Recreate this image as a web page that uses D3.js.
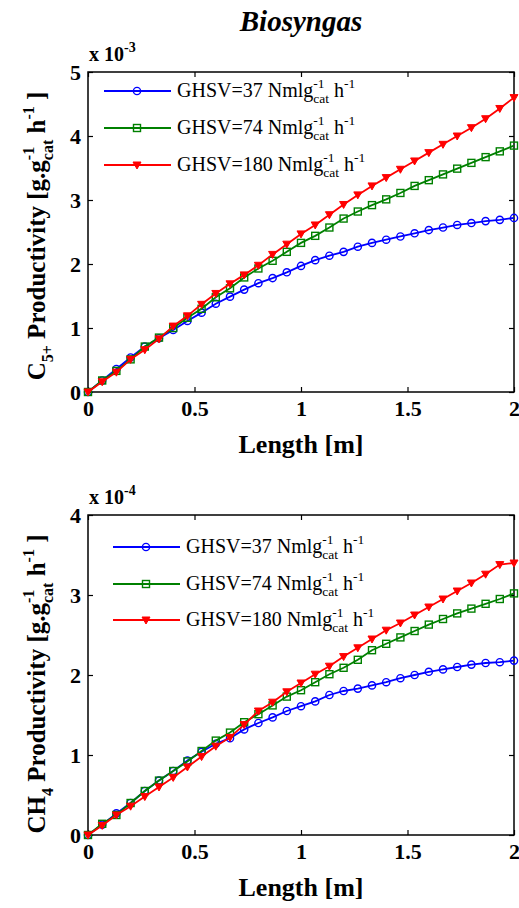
<!DOCTYPE html>
<html>
<head>
<meta charset="utf-8">
<script src="https://cdn.jsdelivr.net/npm/d3@7/dist/d3.min.js"></script>
<style>
  body { margin: 0; background: #fff; }
  text { font-family: "Liberation Serif", "Times New Roman", serif; }
</style>
</head>
<body>
<div id="graph"></div>
<script>
"use strict";

// reactor length [m]
const lengthM = [0, 0.0667, 0.1333, 0.2, 0.2667, 0.3333, 0.4, 0.4667, 0.5333, 0.6, 0.6667,
  0.7333, 0.8, 0.8667, 0.9333, 1, 1.0667, 1.1333, 1.2, 1.2667, 1.3333, 1.4, 1.4667,
  1.5333, 1.6, 1.6667, 1.7333, 1.8, 1.8667, 1.9333, 2];

// C5+ productivity (x 10^-3)
const c5Ghsv37 = [0, 0.18, 0.36, 0.54, 0.71, 0.84, 0.97, 1.11, 1.24, 1.38, 1.49, 1.60, 1.70, 1.78,
  1.87, 1.97, 2.06, 2.13, 2.19, 2.27, 2.33, 2.38, 2.43, 2.48, 2.53, 2.57, 2.61, 2.64, 2.67, 2.69, 2.72];
const c5Ghsv74 = [0, 0.18, 0.33, 0.51, 0.71, 0.85, 1.00, 1.16, 1.30, 1.48, 1.62, 1.79, 1.93, 2.05,
  2.19, 2.33, 2.44, 2.57, 2.71, 2.82, 2.92, 3.01, 3.11, 3.22, 3.31, 3.40, 3.49, 3.58, 3.67, 3.76, 3.85];
const c5Ghsv180 = [0, 0.16, 0.31, 0.51, 0.66, 0.83, 1.03, 1.19, 1.37, 1.54, 1.69, 1.83, 1.98, 2.15,
  2.31, 2.47, 2.61, 2.77, 2.93, 3.08, 3.22, 3.35, 3.48, 3.61, 3.74, 3.87, 4.00, 4.13, 4.27, 4.43, 4.60];

// CH4 productivity (x 10^-4)
const ch4Ghsv37 = [0, 0.13, 0.27, 0.40, 0.55, 0.68, 0.80, 0.93, 1.04, 1.14, 1.21, 1.32, 1.40, 1.47,
  1.55, 1.61, 1.67, 1.75, 1.80, 1.83, 1.87, 1.91, 1.96, 2.00, 2.04, 2.07, 2.10, 2.13, 2.15, 2.16, 2.18];
const ch4Ghsv74 = [0, 0.14, 0.25, 0.40, 0.55, 0.68, 0.80, 0.92, 1.05, 1.18, 1.28, 1.41, 1.51, 1.62,
  1.73, 1.81, 1.91, 2.01, 2.09, 2.19, 2.31, 2.39, 2.47, 2.55, 2.63, 2.70, 2.77, 2.83, 2.89, 2.95, 3.02];
const ch4Ghsv180 = [0, 0.12, 0.25, 0.36, 0.48, 0.60, 0.72, 0.85, 0.98, 1.11, 1.22, 1.38, 1.55, 1.66,
  1.79, 1.90, 2.01, 2.11, 2.23, 2.34, 2.45, 2.56, 2.65, 2.75, 2.85, 2.95, 3.05, 3.15, 3.26, 3.38, 3.40];

const xTicks = [0, 0.5, 1, 1.5, 2];
const c5Ticks = [0, 1, 2, 3, 4, 5];
const ch4Ticks = [0, 1, 2, 3, 4];
const ghsvValues = ["37", "74", "180"];
const seriesColors = ["#0000ff", "#008000", "#ff0000"];
const seriesMarkers = ["circle", "square", "triangle"];

const svg = d3.select("#graph").append("svg")
  .attr("width", 519).attr("height", 908);

// title
svg.append("text")
  .attr("x", 301).attr("y", 31)
  .attr("text-anchor", "middle")
  .style("font-size", "29px").style("font-weight", "bold").style("font-style", "italic")
  .text("Biosyngas");

// appends runs of [text, kind] into a text node; kind: "", "sup", "sub", "stack" (sub under previous sup)
function richText(textSel, parts, baseSize, smallSize) {
  let level = 0;
  let lastWidth = 0;
  parts.forEach(function (p) {
    const kind = p[1] || "";
    let target = 0;
    if (kind === "sup") target = -0.45 * baseSize;
    if (kind === "sub" || kind === "stack") target = 0.3 * baseSize;
    const t = textSel.append("tspan")
      .attr("dy", target - level)
      .style("font-size", (kind ? smallSize : baseSize) + "px")
      .text(p[0]);
    if (kind === "stack") t.attr("dx", -lastWidth);
    level = target;
    lastWidth = t.node().getComputedTextLength();
  });
}

function drawPanel(cfg) {
  const x = d3.scaleLinear().domain([0, 2]).range([88, 514]);
  const y = d3.scaleLinear().domain([0, cfg.yMax]).range([cfg.bottom, cfg.top]);
  const g = svg.append("g");

  const tickFont = function (sel) {
    sel.selectAll("text")
      .style("font-family", "'Liberation Serif', serif")
      .style("font-size", "22px").style("font-weight", "bold").attr("fill", "#000");
    sel.selectAll("line").attr("stroke", "#000").attr("stroke-width", 1.2);
    sel.select(".domain").remove();
  };

  g.append("g").attr("transform", "translate(0," + cfg.bottom + ")")
    .call(d3.axisBottom(x).tickValues(xTicks).tickFormat(d3.format("")).tickSize(-5).tickPadding(8))
    .call(tickFont);
  g.append("g").attr("transform", "translate(0," + cfg.top + ")")
    .call(d3.axisTop(x).tickValues(xTicks).tickFormat("").tickSize(-5))
    .call(tickFont);
  g.append("g").attr("transform", "translate(88,0)")
    .call(d3.axisLeft(y).tickValues(cfg.yTicks).tickFormat(d3.format("d")).tickSize(-5).tickPadding(7))
    .call(tickFont);
  g.append("g").attr("transform", "translate(514,0)")
    .call(d3.axisRight(y).tickValues(cfg.yTicks).tickFormat("").tickSize(-5))
    .call(tickFont);

  g.append("rect")
    .attr("x", 88).attr("y", cfg.top)
    .attr("width", 514 - 88).attr("height", cfg.bottom - cfg.top)
    .attr("fill", "none").attr("stroke", "#000").attr("stroke-width", 1.5);

  // exponent
  const ex = g.append("text").attr("x", 89).attr("y", cfg.top - 11)
    .style("font-weight", "bold");
  richText(ex, [["x 10", ""], [cfg.exponent, "sup"]], 20, 14);

  // x label
  g.append("text")
    .attr("x", 301).attr("y", cfg.bottom + 61)
    .attr("text-anchor", "middle")
    .style("font-size", "26px").style("font-weight", "bold")
    .text("Length [m]");

  // y label
  const yl = g.append("text")
    .attr("transform", "translate(45," + cfg.labelY + ") rotate(-90)")
    .attr("text-anchor", "middle")
    .style("font-weight", "bold");
  richText(yl, cfg.yLabel, 25, 16);

  const line = d3.line()
    .x(function (d, i) { return x(lengthM[i]); })
    .y(function (d) { return y(d); });

  function marker(sel, kind, color, cx, cy) {
    if (kind === "circle") {
      sel.append("circle").attr("cx", cx).attr("cy", cy).attr("r", 3.6)
        .attr("fill", "none").attr("stroke", color).attr("stroke-width", 1.4);
    } else if (kind === "square") {
      sel.append("rect").attr("x", cx - 3.5).attr("y", cy - 3.5).attr("width", 7).attr("height", 7)
        .attr("fill", "none").attr("stroke", color).attr("stroke-width", 1.4);
    } else {
      sel.append("path")
        .attr("d", "M" + (cx - 4) + "," + (cy - 3) + "L" + (cx + 4) + "," + (cy - 3) + "L" + cx + "," + (cy + 4) + "Z")
        .attr("fill", color).attr("stroke", color).attr("stroke-width", 1);
    }
  }

  cfg.series.forEach(function (vals, k) {
    const color = seriesColors[k];
    g.append("path").datum(vals)
      .attr("d", line)
      .attr("fill", "none").attr("stroke", color).attr("stroke-width", 1.8);
    const mg = g.append("g");
    vals.forEach(function (v, i) {
      marker(mg, seriesMarkers[k], color, x(lengthM[i]), y(v));
    });
  });

  // legend
  ghsvValues.forEach(function (gv, k) {
    const ly = cfg.legendY[k];
    const color = seriesColors[k];
    g.append("line")
      .attr("x1", cfg.legendX).attr("x2", cfg.legendX + 67)
      .attr("y1", ly).attr("y2", ly)
      .attr("stroke", color).attr("stroke-width", 1.8);
    marker(g, seriesMarkers[k], color, cfg.legendX + 33, ly);
    const lt = g.append("text").attr("x", cfg.legendX + 73).attr("y", ly + 6);
    richText(lt, [["GHSV=" + gv + " Nmlg", ""], ["-1", "sup"], ["cat", "stack"], [" h", ""], ["-1", "sup"]], 20, 13.5);
  });
}

drawPanel({
  top: 72, bottom: 392, yMax: 5, yTicks: c5Ticks, exponent: "-3", labelY: 236,
  series: [c5Ghsv37, c5Ghsv74, c5Ghsv180],
  legendX: 104, legendY: [91, 128, 165],
  yLabel: [["C", ""], ["5+", "sub"], [" Productivity [g.g", ""], ["-1", "sup"], ["cat", "stack"],
    [" h", ""], ["-1", "sup"], [" ]", ""]]
});

drawPanel({
  top: 515, bottom: 835, yMax: 4, yTicks: ch4Ticks, exponent: "-4", labelY: 684,
  series: [ch4Ghsv37, ch4Ghsv74, ch4Ghsv180],
  legendX: 113, legendY: [547, 584, 620],
  yLabel: [["CH", ""], ["4", "sub"], [" Productivity [g.g", ""], ["-1", "sup"], ["cat", "stack"],
    [" h", ""], ["-1", "sup"], [" ]", ""]]
});
</script>
</body>
</html>
